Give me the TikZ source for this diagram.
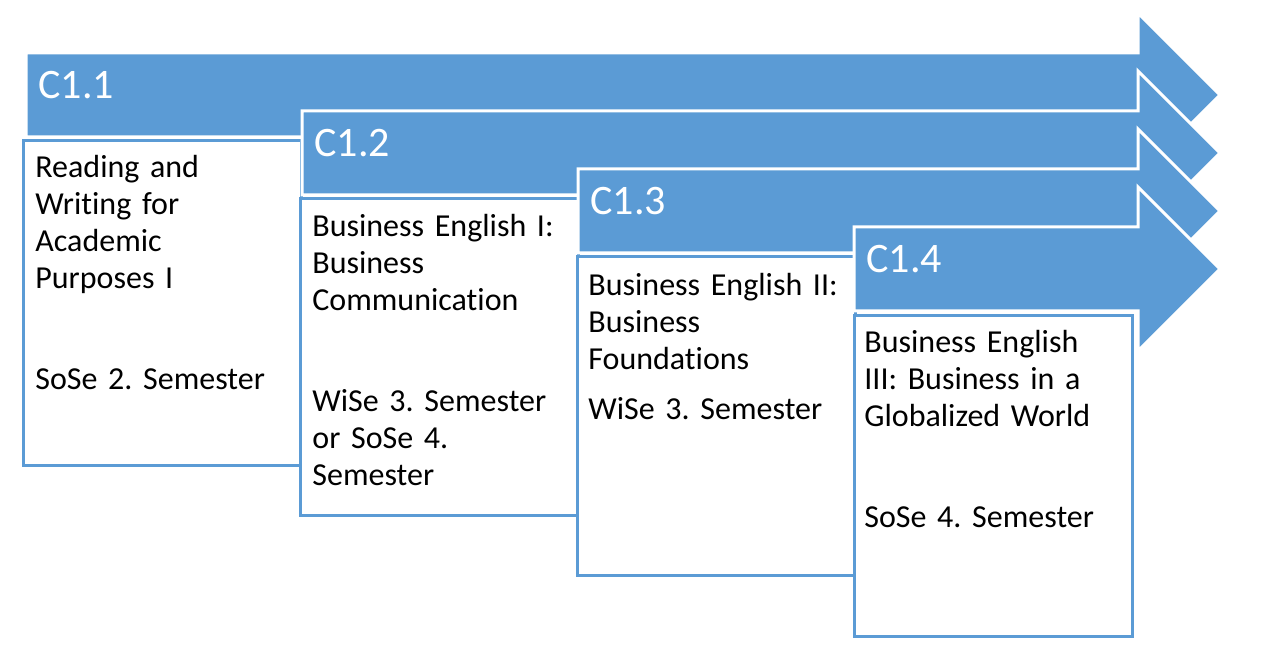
\documentclass[tikz,border=0pt]{standalone}
\usepackage{fontspec}
\setmainfont{Carlito}[Ligatures=NoCommon]
\definecolor{officeblue}{HTML}{5B9BD5}
\frenchspacing
\begin{document}
\begin{tikzpicture}[x=0.5pt,y=-0.5pt,
    band/.style={fill=officeblue,draw=white,line width=1.5pt,line join=miter},
    modbox/.style={fill=white,draw=officeblue,line width=1.5pt},
    tag/.style={anchor=base west,inner sep=0pt,text=white,font=\fontsize{21pt}{25pt}\selectfont},
    course/.style={anchor=base west,inner sep=0pt,text width=135pt,align=left,font=\fontsize{16pt}{18.5pt}\selectfont}]
            \useasboundingbox (0,0) rectangle (1270,663);

            % Arrow and box C1.1
            \filldraw[band] (26,53) -- (1138,53) -- (1138,13) -- (1220,95) -- (1138,177) -- (1138,137) -- (26,137) -- cycle;
            \filldraw[modbox] (23,141) rectangle (301,465);
            \node[tag] (t1) at (38,99) {C1.1};
            \node[course] (c1) at (35,178) {Reading and\\ Writing for\\ Academic\\ Purposes I\\[32pt] SoSe 2. Semester};

            % Arrow and box C1.2
            \filldraw[band] (302,111) -- (1138,111) -- (1138,71) -- (1220,153) -- (1138,235) -- (1138,195) -- (302,195) -- cycle;
            \filldraw[modbox] (300,199) rectangle (578,515);
            \node[tag] (t2) at (314,157) {C1.2};
            \node[course] (c2) at (312,237) {Business English I:\\ Business\\ Communication\\[32pt] WiSe 3. Semester\\ or SoSe 4.\\ Semester};

            % Arrow and box C1.3
            \filldraw[band] (578,169) -- (1138,169) -- (1138,129) -- (1220,211) -- (1138,293) -- (1138,253) -- (578,253) -- cycle;
            \filldraw[modbox] (577,257) rectangle (855,575);
            \node[tag] (t3) at (590,215) {C1.3};
            \node[course] (c3) at (588,296) {Business English II:\\ Business\\ Foundations\\[6.5pt] WiSe 3. Semester};

            % Arrow and box C1.4
            \filldraw[band] (854,227) -- (1138,227) -- (1138,187) -- (1220,269) -- (1138,351) -- (1138,311) -- (854,311) -- cycle;
            \filldraw[modbox] (854,316) rectangle (1132,636);
            \node[tag] (t4) at (866,273) {C1.4};
            \node[course] (c4) at (864,353) {Business English\\ III: Business in a\\ Globalized World\\[32pt] SoSe 4. Semester};
\end{tikzpicture}
\end{document}
